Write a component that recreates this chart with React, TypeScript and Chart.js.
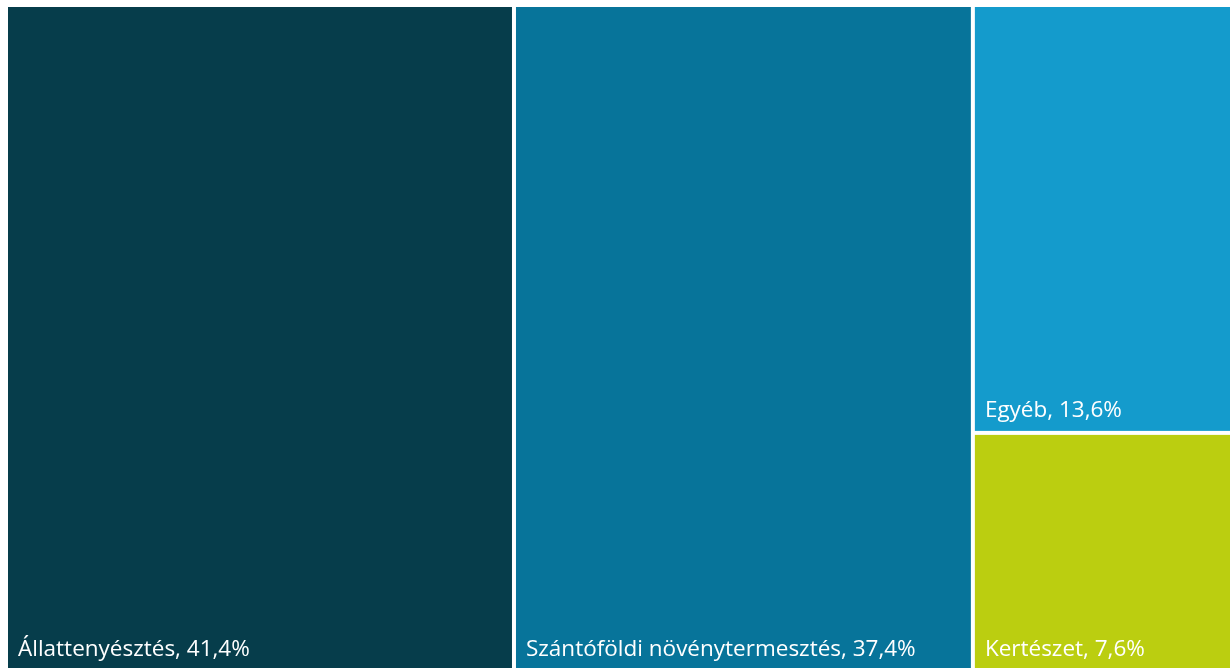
import React, { useEffect, useRef } from "react";
import { Chart, registerables } from "chart.js";

Chart.register(...registerables);

const categories = ["Állattenyésztés", "Szántóföldi növénytermesztés", "Egyéb", "Kertészet"];
const shares = [41.4, 37.4, 13.6, 7.6];
const valueLabels = ["41,4%", "37,4%", "13,6%", "7,6%"];
const colors = ["#063d4b", "#07749a", "#149bcc", "#bbce10"];

type R = { x: number; y: number; w: number; h: number };

function squarify(vals: number[], rect: R, kx: number, ky: number): R[] {
  const total = vals.reduce((a, b) => a + b, 0);
  let items = vals.map((v, i) => ({ i, a: (v / total) * rect.w * rect.h }));
  const out: R[] = [];
  let r = { ...rect };
  const worst = (row: { a: number }[], rr: R, vertical: boolean) => {
    const A = row.reduce((s, it) => s + it.a, 0);
    let m = 0;
    if (vertical) {
      const cw = A / rr.h;
      row.forEach((it) => {
        const ch = it.a / cw;
        const ar = (cw * kx) / (ch * ky);
        m = Math.max(m, ar, 1 / ar);
      });
    } else {
      const rh = A / rr.w;
      row.forEach((it) => {
        const cw = it.a / rh;
        const ar = (cw * kx) / (rh * ky);
        m = Math.max(m, ar, 1 / ar);
      });
    }
    return m;
  };
  while (items.length) {
    const vertical = r.w * kx >= r.h * ky;
    const row = [items[0]];
    let k = 1;
    while (k < items.length && worst(row.concat(items[k]), r, vertical) <= worst(row, r, vertical)) {
      row.push(items[k]);
      k++;
    }
    const A = row.reduce((s, it) => s + it.a, 0);
    if (vertical) {
      const cw = A / r.h;
      let yy = r.y;
      row.forEach((it) => {
        const ch = it.a / cw;
        out[it.i] = { x: r.x, y: yy, w: cw, h: ch };
        yy += ch;
      });
      r = { x: r.x + cw, y: r.y, w: r.w - cw, h: r.h };
    } else {
      const rh = A / r.w;
      let xx = r.x;
      row.forEach((it) => {
        const cw = it.a / rh;
        out[it.i] = { x: xx, y: r.y, w: cw, h: rh };
        xx += cw;
      });
      r = { x: r.x, y: r.y + rh, w: r.w, h: r.h - rh };
    }
    items = items.slice(k);
  }
  return out;
}

const treemapPlugin = {
  id: "treemapCells",
  afterDatasetsDraw(chart: any) {
    const { ctx, scales } = chart;
    const xs = scales.x;
    const ys = scales.y;
    const kx = Math.abs(xs.getPixelForValue(100) - xs.getPixelForValue(0)) / 100;
    const ky = Math.abs(ys.getPixelForValue(100) - ys.getPixelForValue(0)) / 100;
    const cells = squarify(shares, { x: 0, y: 0, w: 100, h: 100 }, kx, ky);
    const inset = 2;
    ctx.save();
    cells.forEach((c, i) => {
      const x0 = xs.getPixelForValue(c.x) + inset;
      const x1 = xs.getPixelForValue(c.x + c.w) - inset;
      const y0 = ys.getPixelForValue(c.y) + inset;
      const y1 = ys.getPixelForValue(c.y + c.h) - inset;
      ctx.fillStyle = colors[i];
      ctx.fillRect(x0, y0, x1 - x0, y1 - y0);
      ctx.fillStyle = "#ffffff";
      ctx.font = '22.5px "Open Sans", "Noto Sans", sans-serif';
      ctx.textAlign = "left";
      ctx.textBaseline = "alphabetic";
      ctx.fillText(`${categories[i]}, ${valueLabels[i]}`, x0 + 10, y1 - 14);
    });
    ctx.restore();
  },
};

export default function App() {
  const ref = useRef<HTMLCanvasElement | null>(null);
  useEffect(() => {
    if (!ref.current) return;
    const chart = new Chart(ref.current, {
      type: "scatter",
      data: { datasets: [] },
      options: {
        animation: false,
        responsive: true,
        maintainAspectRatio: false,
        layout: { padding: 0 },
        scales: {
          x: { type: "linear", min: 0, max: 100, display: false },
          y: { type: "linear", min: 0, max: 100, reverse: true, display: false },
        },
        plugins: { legend: { display: false }, tooltip: { enabled: false } },
      },
      plugins: [treemapPlugin],
    });
    return () => chart.destroy();
  }, []);
  return (
    <div style={{ position: "fixed", left: 0, top: 0, width: 1230, height: 668, overflow: "hidden", background: "#fff" }}>
      <div style={{ position: "absolute", left: 6, top: 5, width: 1227, height: 667 }}>
        <canvas ref={ref} />
      </div>
    </div>
  );
}
